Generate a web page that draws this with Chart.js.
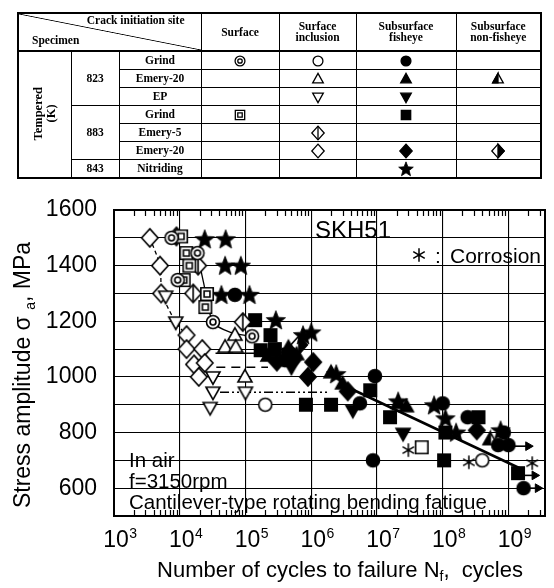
<!DOCTYPE html>
<html lang="en">
<head>
<meta charset="UTF-8">
<title>SKH51 S-N diagram</title>
<script src="https://cdn.jsdelivr.net/npm/chart.js"></script>
<style>
  body { margin: 0; background: #fff; }
  #wrap { position: relative; width: 554px; height: 588px; overflow: hidden; }
  #chart { position: absolute; left: 0; top: 0; }
  #tbl {
    position: absolute; left: 17px; top: 12px;
    border-collapse: collapse; table-layout: fixed; width: 523px;
    border: 2px solid #000;
    font-family: "Liberation Serif", "Times New Roman", serif;
    font-size: 11.5px; font-weight: bold; color: #000;
  }
  #tbl td { border: 1px solid #000; padding: 0; text-align: center; vertical-align: middle; height: 17px; line-height: 11px; overflow: hidden; }
  #tbl tr.hd td { height: 36px; border-bottom: 2px solid #000; }
  #tbl td.diag {
    position: relative;
    background: linear-gradient(to top right, transparent calc(50% - 0.8px), #000 50%, transparent calc(50% + 0.8px));
  }
  #tbl .cis { position: absolute; right: 16px; top: 1px; }
  #tbl .spc { position: absolute; left: 13px; bottom: 4px; }
  #tbl .vt { writing-mode: vertical-rl; transform: rotate(180deg); display: inline-block; line-height: 13px; font-size: 12.5px; }
  #tbl canvas { display: block; margin: -2px auto; }
</style>
</head>
<body>
<div id="wrap">
  <canvas id="chart" width="554" height="588"></canvas>
  <table id="tbl">
    <colgroup>
      <col style="width:53px"><col style="width:48px"><col style="width:82px"><col style="width:78px">
      <col style="width:77px"><col style="width:100px"><col style="width:85px">
    </colgroup>
    <tr class="hd">
      <td colspan="3" class="diag"><span class="cis">Crack initiation site</span><span class="spc">Specimen</span></td>
      <td>Surface</td><td>Surface<br>inclusion</td><td>Subsurface<br>fisheye</td><td>Subsurface<br>non-fisheye</td>
    </tr>
    <tr><td rowspan="7"><span class="vt">Tempered<br>(K)</span></td><td rowspan="3">823</td><td>Grind</td>
      <td data-m="dcirc"></td><td data-m="ocirc"></td><td data-m="fcirc"></td><td></td></tr>
    <tr><td>Emery-20</td><td></td><td data-m="otri"></td><td data-m="ftri"></td><td data-m="htri"></td></tr>
    <tr><td>EP</td><td></td><td data-m="otrid"></td><td data-m="ftrid"></td><td></td></tr>
    <tr><td rowspan="3">883</td><td>Grind</td><td data-m="dsq"></td><td></td><td data-m="fsq"></td><td></td></tr>
    <tr><td>Emery-5</td><td></td><td data-m="vdia"></td><td></td><td></td></tr>
    <tr><td>Emery-20</td><td></td><td data-m="odia"></td><td data-m="fdia"></td><td data-m="hdia"></td></tr>
    <tr><td>843</td><td>Nitriding</td><td></td><td></td><td data-m="fstar"></td><td></td></tr>
  </table>
</div>

<script>
// axes
const decadeExp = [3, 4, 5, 6, 7, 8, 9];
const minorMult = [2, 3, 4, 5, 6, 7, 8, 9];
const yGrid = [600, 700, 800, 900, 1000, 1100, 1200, 1300, 1400, 1500, 1600];
const yLabels = [600, 800, 1000, 1200, 1400, 1600];

// [Nf, stress amplitude MPa]
// surface
const surfGrind823 = [[7.5e3, 1500], [1.86e4, 1445], [9.3e3, 1348], [3.2e4, 1197], [1.26e5, 1146]];
const surfGrind883 = [[1.05e4, 1505], [1.26e4, 1445], [1.4e4, 1400], [1.15e4, 1348], [2.6e4, 1298], [2.45e4, 1251]];
// surface inclusion
const inclGrind823 = [[2.0e5, 900], [4.0e8, 700]];
const inclEmery20_823 = [[6.9e4, 1150], [4.9e4, 1107], [7.1e4, 1107], [9.8e4, 1000]];
const inclEP823 = [[6.1e3, 1290], [8.7e3, 1197], [3.2e4, 1000], [3.2e4, 945], [1.0e5, 945], [2.9e4, 890]];
const inclEmery5_883 = [[8.9e3, 1505], [1.9e4, 1400], [1.6e4, 1300], [9.1e4, 1197]];
const inclEmery20_883 = [[3.5e3, 1500], [5.0e3, 1400], [5.2e3, 1300], [1.27e4, 1150], [1.27e4, 1100],
  [2.2e4, 1100], [1.65e4, 1045], [2.4e4, 1050], [1.95e4, 1000]];
// subsurface fisheye
const fishGrind823 = [[6.9e4, 1295], [4.0e5, 1060], [5.5e6, 905], [9.3e6, 1003], [8.7e6, 700], [1.0e8, 905],
  [2.4e8, 855], [8.5e8, 800], [7.0e8, 755], [1.0e9, 755], [1.7e9, 600]];
const fishEmery20_823 = [[2.2e5, 1075], [4.5e5, 1105], [6.0e5, 1080], [2.0e6, 1015], [3.0e6, 975], [2.1e7, 905], [2.8e7, 893]];
const fishEP823 = [[5.0e5, 1035], [4.3e6, 880], [2.5e7, 797]];
const fishGrind883 = [[1.4e5, 1204], [2.4e5, 1150], [1.7e5, 1096], [2.8e5, 1100], [4.5e5, 1080], [8.3e5, 900],
  [2.0e6, 900], [7.9e6, 952], [1.58e7, 855], [1.1e8, 800], [1.05e8, 700], [3.5e8, 855], [1.4e9, 654]];
const fishEmery20_883 = [[3.0e5, 1055], [5.2e5, 1060], [8.9e5, 1000], [1.07e6, 1053], [3.6e6, 948], [3.3e8, 808]];
const fishNitrided = [[2.4e4, 1495], [5.0e4, 1495], [4.9e4, 1400], [8.5e4, 1400], [4.3e4, 1295], [1.15e5, 1295],
  [2.9e5, 1204], [7.5e5, 1150], [1.0e6, 1160], [2.4e6, 1010], [2.1e7, 912], [7.4e7, 898], [1.1e8, 851],
  [1.6e8, 800], [7.6e8, 808]];
// subsurface non-fisheye
const nonfishEmery20_823 = [[5.3e8, 775]];
const nonfishEmery20_883 = [[6.5e5, 1115]];
// others
const openSquare = [[4.8e7, 747]];
const corrosion = [[3.0e7, 737], [2.5e8, 693], [2.3e9, 690]];

// lines
const snLine = [[3.8e6, 960], [1.6e9, 668]];
const curveDia = [[3.5e3, 1500], [5.0e3, 1400], [5.4e3, 1300], [8.7e3, 1197], [1.27e4, 1150]];
const curveSurf = [[1.86e4, 1445], [2.3e4, 1340], [3.2e4, 1197], [6.0e4, 1160], [1.26e5, 1146]];
const line1085 = [[3.5e4, 1085], [1.5e5, 1085]];
const line1035 = [[3.6e4, 1035], [2.2e5, 1035]];
const line945 = [[4.1e4, 945], [1.8e6, 945]];
const runout1 = [[1.05e9, 751], [2.0e9, 751]];
const runout2 = [[1.45e9, 646], [2.5e9, 646]];
const runout3 = [[1.75e9, 600], [2.8e9, 600]];

function makeMarker(type, s, pad) {
  const R = Math.ceil(s * 1.55) + (pad === undefined ? 3 : pad);
  const c = document.createElement('canvas');
  c.width = c.height = R * 2;
  const g = c.getContext('2d');
  g.translate(R, R);
  g.lineWidth = s > 6 ? 1.6 : 1.3;
  g.strokeStyle = '#000';
  g.fillStyle = '#000';
  const poly = pts => { g.beginPath(); pts.forEach(([a, b], i) => i ? g.lineTo(a, b) : g.moveTo(a, b)); g.closePath(); };
  const circ = r => { g.beginPath(); g.arc(0, 0, r, 0, Math.PI * 2); };
  const open = () => { g.fillStyle = '#fff'; g.fill(); g.stroke(); g.fillStyle = '#000'; };
  const full = () => { g.fill(); g.stroke(); };
  const t = s, d = s * 1.3, q = s * 0.93;
  const tri = [[0, -t * 1.05], [t, t * 0.72], [-t, t * 0.72]];
  const triD = tri.map(([a, b]) => [a, -b]);
  const dia = [[0, -d], [d * 0.9, 0], [0, d], [-d * 0.9, 0]];
  const sq = h => [[-h, -h], [h, -h], [h, h], [-h, h]];
  switch (type) {
    case 'ocirc': circ(q); open(); break;
    case 'fcirc': circ(q); full(); break;
    case 'dcirc': circ(q); open(); circ(q * 0.45); g.stroke(); break;
    case 'otri': poly(tri); open(); break;
    case 'ftri': poly(tri); full(); break;
    case 'htri': poly(tri); open(); poly([tri[0], tri[2], [0, tri[2][1]]]); full(); break;
    case 'otrid': poly(triD); open(); break;
    case 'ftrid': poly(triD); full(); break;
    case 'osq': poly(sq(q * 0.95)); open(); break;
    case 'fsq': poly(sq(q * 0.95)); full(); break;
    case 'dsq': poly(sq(q * 0.95)); open(); poly(sq(q * 0.45)); g.stroke(); break;
    case 'odia': poly(dia); open(); break;
    case 'fdia': poly(dia); full(); break;
    case 'vdia': poly(dia); open(); g.beginPath(); g.moveTo(0, -d); g.lineTo(0, d); g.stroke(); break;
    case 'hdia': poly(dia); open(); poly([dia[0], dia[1], dia[2]]); full(); break;
    case 'fstar': {
      const pts = [];
      for (let i = 0; i < 10; i++) {
        const r = i % 2 ? s * 0.62 : s * 1.45;
        const a = -Math.PI / 2 + i * Math.PI / 5;
        pts.push([r * Math.cos(a), r * Math.sin(a) + s * 0.1]);
      }
      poly(pts); g.lineWidth = 0.8; full(); break;
    }
    case 'ast': {
      g.lineWidth = 1.5;
      g.beginPath();
      [90, 30, 150].forEach(deg => {
        const a = deg * Math.PI / 180, L = s * 0.95;
        g.moveTo(-L * Math.cos(a), -L * Math.sin(a));
        g.lineTo(L * Math.cos(a), L * Math.sin(a));
      });
      g.stroke(); break;
    }
  }
  return c;
}

// legend symbols in the table
document.querySelectorAll('#tbl td[data-m]').forEach(td => {
  td.appendChild(makeMarker(td.dataset.m, 5.3, 0));
});

const pts = arr => arr.map(([x, y]) => ({ x, y }));
const markerSet = (arr, type) => ({ data: pts(arr), pointStyle: makeMarker(type, 7), pointRadius: 8, order: 0 });
const lineSet = (arr, width, dash, tension) => ({
  data: pts(arr), showLine: true, borderColor: '#000', borderWidth: width, borderDash: dash || [],
  pointRadius: 0, tension: tension || 0, order: 5
});
const arrowSet = arr => ({
  data: pts(arr), showLine: true, borderColor: '#000', borderWidth: 1.6,
  pointStyle: 'triangle', pointRotation: 90, pointRadius: [0, 5],
  pointBackgroundColor: '#000', pointBorderColor: '#000', pointBorderWidth: 1, order: 3
});

const FONT = '"Liberation Sans", Arial, Helvetica, sans-serif';

function drawSubText(ctx, parts, x, y) {
  // parts: [text, size, dy]; drawn left-to-right centred on x
  let total = 0;
  parts.forEach(p => { ctx.font = p[1] + 'px ' + FONT; p.w = ctx.measureText(p[0]).width; total += p.w; });
  let cx = x - total / 2;
  ctx.textAlign = 'left';
  parts.forEach(p => { ctx.font = p[1] + 'px ' + FONT; ctx.fillText(p[0], cx, y + p[2]); cx += p.w; });
}

const decor = {
  id: 'decor',
  afterDraw(chart) {
    const { ctx, chartArea: a, scales: { x } } = chart;
    ctx.save();
    ctx.fillStyle = '#000';
    ctx.strokeStyle = '#000';
    // minor ticks, inward, top and bottom
    ctx.lineWidth = 1.2;
    decadeExp.forEach(e => minorMult.forEach(k => {
      const v = k * Math.pow(10, e);
      if (v > x.max) return;
      const px = Math.round(x.getPixelForValue(v)) + 0.5;
      ctx.beginPath();
      ctx.moveTo(px, a.top); ctx.lineTo(px, a.top + 6);
      ctx.moveTo(px, a.bottom); ctx.lineTo(px, a.bottom - 6);
      ctx.stroke();
    }));
    // frame
    ctx.lineWidth = 2;
    ctx.strokeRect(a.left, a.top, a.right - a.left, a.bottom - a.top);

    // x tick labels 10^n
    ctx.textBaseline = 'alphabetic';
    decadeExp.forEach(e => {
      const px = x.getPixelForValue(Math.pow(10, e)) + 2;
      ctx.font = '23px ' + FONT;
      ctx.textAlign = 'center';
      ctx.fillText('10', px, 547);
      const w = ctx.measureText('10').width;
      ctx.font = '14px ' + FONT;
      ctx.textAlign = 'left';
      ctx.fillText(String(e), px + w / 2 + 0.5, 538);
    });

    // axis titles
    drawSubText(ctx, [['Number of cycles to failure N', 22, 0], ['f', 14, 4], [',  cycles', 22, 0]], 340, 577);
    ctx.save();
    ctx.translate(30, 375);
    ctx.rotate(-Math.PI / 2);
    drawSubText(ctx, [['Stress amplitude \u03c3 ', 23, 0], ['a', 14, 5], [', MPa', 23, 0]], 0, 0);
    ctx.restore();

    // annotations
    ctx.textAlign = 'left';
    ctx.font = '24px ' + FONT;
    ctx.fillText('SKH51', 315, 238);
    ctx.font = '21px ' + FONT;
    ctx.fillText(':', 435, 263);
    ctx.fillText('Corrosion', 450, 263);
    const ast = makeMarker('ast', 7);
    ctx.drawImage(ast, 419 - ast.width / 2, 255 - ast.height / 2);
    ctx.font = '20.5px ' + FONT;
    ctx.fillText('In air', 129, 467);
    ctx.fillText('f=3150rpm', 129, 488);
    ctx.fillText('Cantilever-type rotating bending fatigue', 129, 509);
    ctx.restore();
  }
};

new Chart(document.getElementById('chart'), {
  type: 'scatter',
  data: {
    datasets: [
      markerSet(surfGrind823, 'dcirc'),
      markerSet(surfGrind883, 'dsq'),
      markerSet(inclGrind823, 'ocirc'),
      markerSet(inclEmery20_823, 'otri'),
      markerSet(inclEP823, 'otrid'),
      markerSet(inclEmery5_883, 'vdia'),
      markerSet(inclEmery20_883, 'odia'),
      markerSet(fishNitrided, 'fstar'),
      markerSet(fishGrind823, 'fcirc'),
      markerSet(fishEmery20_823, 'ftri'),
      markerSet(fishEP823, 'ftrid'),
      markerSet(fishGrind883, 'fsq'),
      markerSet(fishEmery20_883, 'fdia'),
      markerSet(nonfishEmery20_823, 'htri'),
      markerSet(nonfishEmery20_883, 'hdia'),
      markerSet(openSquare, 'osq'),
      markerSet(corrosion, 'ast'),
      lineSet(snLine, 2.6),
      lineSet(curveDia, 1.3, [4, 3], 0.3),
      lineSet(curveSurf, 1.3, [], 0.3),
      lineSet(line1085, 1.6),
      lineSet(line1035, 1.5, [9, 6]),
      lineSet(line945, 1.5, [9, 3, 2, 3, 2, 3]),
      arrowSet(runout1),
      arrowSet(runout2),
      arrowSet(runout3)
    ]
  },
  options: {
    responsive: false,
    devicePixelRatio: 1,
    animation: false,
    events: [],
    layout: { padding: { top: 210, right: 4, left: 0, bottom: 0 } },
    plugins: { legend: { display: false }, tooltip: { enabled: false } },
    scales: {
      x: {
        type: 'logarithmic',
        min: 1e3,
        max: 3.6e9,
        afterFit: s => { s.height = 72; },
        afterBuildTicks: s => { s.ticks = decadeExp.map(e => ({ value: Math.pow(10, e) })); },
        ticks: { display: false },
        grid: { color: '#000', lineWidth: 1.1, drawTicks: false },
        border: { display: false }
      },
      y: {
        min: 500,
        max: 1600,
        afterFit: s => { s.width = 114; },
        afterBuildTicks: s => { s.ticks = yGrid.map(v => ({ value: v })); },
        ticks: {
          callback: v => yLabels.includes(v) ? String(v) : '',
          color: '#000',
          padding: 17,
          font: { family: FONT, size: 23 }
        },
        grid: { color: '#000', lineWidth: 1.1, drawTicks: false },
        border: { display: false }
      }
    }
  },
  plugins: [decor]
});
</script>
</body>
</html>
